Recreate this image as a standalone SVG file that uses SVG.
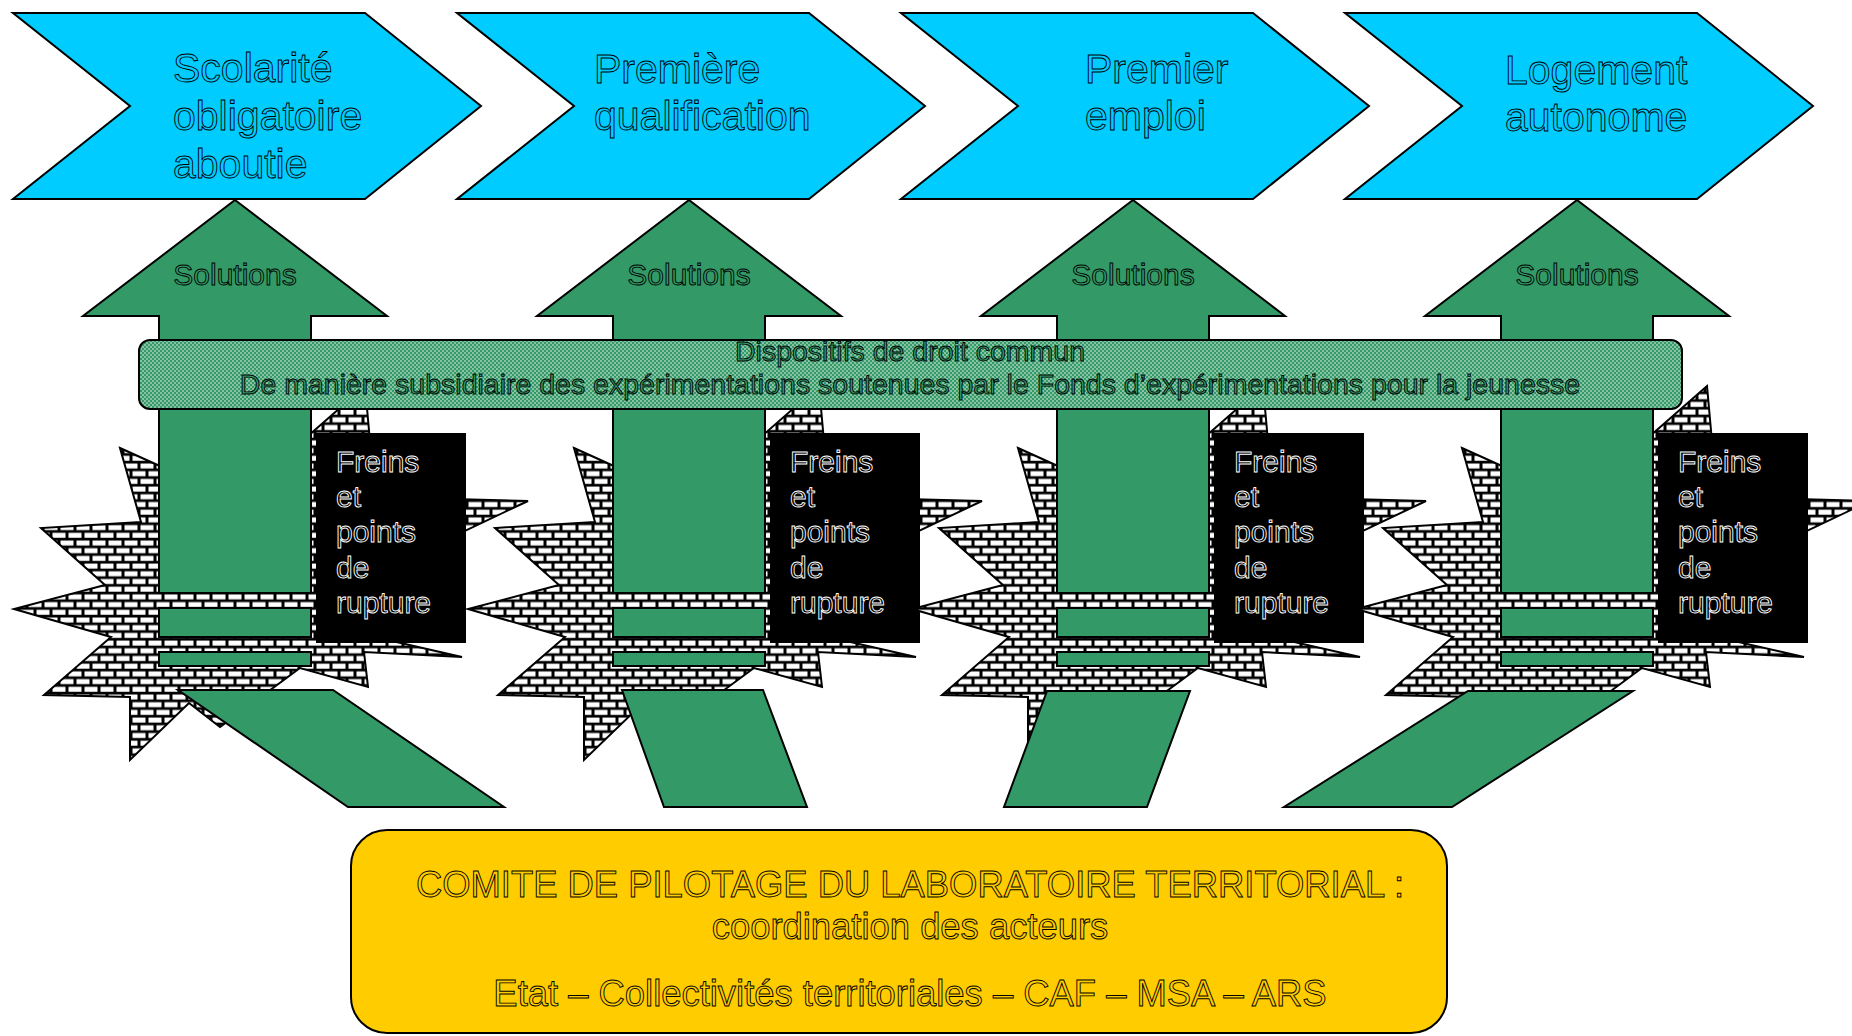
<svg xmlns="http://www.w3.org/2000/svg" xmlns:xlink="http://www.w3.org/1999/xlink" width="1852" height="1036" viewBox="0 0 1852 1036">
<style>
  text { font-family: "Liberation Sans", Arial, sans-serif; stroke-width: 0.9; }
  .chev { fill: #00CCFF; stroke: #000; stroke-width: 2; }
  .chevt { font-size: 41px; fill: #00CCFF; stroke: #000; }
  .green { fill: #339966; stroke: #000; stroke-width: 2; }
  .sol { font-size: 30px; fill: #339966; stroke: #000; text-anchor: middle; }
  .box { fill: #000; }
  .frt { font-size: 30px; fill: #000; stroke: #fff; }
  .burst { fill: url(#brick); stroke: #000; stroke-width: 2; stroke-linejoin: miter; }
  .bant { font-size: 28.5px; fill: #339966; stroke: #000; text-anchor: middle; }
  .comt { font-size: 36.4px; fill: #FFCC00; stroke: #000; text-anchor: middle; }
</style>
<defs>
  <pattern id="brick" width="16" height="15.4" patternUnits="userSpaceOnUse">
    <rect width="16" height="15.4" fill="#000"/>
    <rect x="1.5" y="1.5" width="13" height="5" fill="#fff"/>
    <rect x="-6.5" y="9.2" width="13" height="5" fill="#fff"/>
    <rect x="9.5" y="9.2" width="13" height="5" fill="#fff"/>
  </pattern>
  <pattern id="dots" width="4" height="4" patternUnits="userSpaceOnUse">
    <rect width="4" height="4" fill="#339966"/>
    <rect x="0.3" y="0.3" width="1.4" height="1.4" fill="#fff" fill-opacity="0.85"/>
    <rect x="2.3" y="2.3" width="1.4" height="1.4" fill="#fff" fill-opacity="0.85"/>
  </pattern>
  <polygon id="burstShape" class="burst" points="-115,448 0,500 130,386 140,497 293,501 200,545 100,628 227,657 129,652 133,687 65,668 -15,727 -46,703 -105,760 -105,697 -191,695 -124,637 -221,609 -130,585 -194,528 -94,522"/>
  <g id="arrowShape">
    <polygon class="green" points="0,200 152,316 76,316 76,593 -76,593 -76,316 -152,316"/>
    <rect class="green" x="-76" y="608" width="152" height="29"/>
    <rect class="green" x="-76" y="652" width="152" height="14"/>
  </g>
</defs>
<rect width="1852" height="1036" fill="#fff"/>

<g id="col1">
  <use xlink:href="#burstShape" href="#burstShape" transform="translate(235,0)"/>
  <use xlink:href="#arrowShape" href="#arrowShape" transform="translate(235,0)"/>
  <text class="sol" x="235" y="285">Solutions</text>
  <rect class="box" x="316" y="433" width="150" height="210"/>
  <text class="frt" x="336"><tspan x="336" y="472">Freins</tspan><tspan x="336" y="507">et</tspan><tspan x="336" y="542">points</tspan><tspan x="336" y="578">de</tspan><tspan x="336" y="613">rupture</tspan></text>
</g>
<g id="col2">
  <use xlink:href="#burstShape" href="#burstShape" transform="translate(689,0)"/>
  <use xlink:href="#arrowShape" href="#arrowShape" transform="translate(689,0)"/>
  <text class="sol" x="689" y="285">Solutions</text>
  <rect class="box" x="770" y="433" width="150" height="210"/>
  <text class="frt" x="790"><tspan x="790" y="472">Freins</tspan><tspan x="790" y="507">et</tspan><tspan x="790" y="542">points</tspan><tspan x="790" y="578">de</tspan><tspan x="790" y="613">rupture</tspan></text>
</g>
<g id="col3">
  <use xlink:href="#burstShape" href="#burstShape" transform="translate(1133,0)"/>
  <use xlink:href="#arrowShape" href="#arrowShape" transform="translate(1133,0)"/>
  <text class="sol" x="1133" y="285">Solutions</text>
  <rect class="box" x="1214" y="433" width="150" height="210"/>
  <text class="frt" x="1234"><tspan x="1234" y="472">Freins</tspan><tspan x="1234" y="507">et</tspan><tspan x="1234" y="542">points</tspan><tspan x="1234" y="578">de</tspan><tspan x="1234" y="613">rupture</tspan></text>
</g>
<g id="col4">
  <use xlink:href="#burstShape" href="#burstShape" transform="translate(1577,0)"/>
  <use xlink:href="#arrowShape" href="#arrowShape" transform="translate(1577,0)"/>
  <text class="sol" x="1577" y="285">Solutions</text>
  <rect class="box" x="1658" y="433" width="150" height="210"/>
  <text class="frt" x="1678"><tspan x="1678" y="472">Freins</tspan><tspan x="1678" y="507">et</tspan><tspan x="1678" y="542">points</tspan><tspan x="1678" y="578">de</tspan><tspan x="1678" y="613">rupture</tspan></text>
</g>

<g id="connectors">
  <polygon class="green" points="178,690 333,690 504,807 348,807"/>
  <polygon class="green" points="622,690 763,690 807,807 664,807"/>
  <polygon class="green" points="1047,691 1190,691 1147,807 1004,807"/>
  <polygon class="green" points="1468,691 1633,691 1452,807 1284,807"/>
</g>

<g id="banner">
  <rect x="139" y="340" width="1543" height="69" rx="11" fill="url(#dots)" stroke="#000" stroke-width="2"/>
  <text class="bant" x="910" y="361">Dispositifs de droit commun</text>
  <text class="bant" x="910" y="394">De manière subsidiaire des expérimentations soutenues par le Fonds d’expérimentations pour la jeunesse</text>
</g>

<g id="step1">
  <polygon class="chev" points="13,13 365,13 481,106 365,199 13,199 130,106"/>
  <text class="chevt"><tspan x="173" y="82">Scolarité</tspan><tspan x="173" y="130">obligatoire</tspan><tspan x="173" y="178">aboutie</tspan></text>
</g>
<g id="step2">
  <polygon class="chev" points="457,13 809,13 925,106 809,199 457,199 574,106"/>
  <text class="chevt"><tspan x="594" y="83">Première</tspan><tspan x="594" y="130">qualification</tspan></text>
</g>
<g id="step3">
  <polygon class="chev" points="901,13 1253,13 1369,106 1253,199 901,199 1018,106"/>
  <text class="chevt"><tspan x="1085" y="83">Premier</tspan><tspan x="1085" y="130">emploi</tspan></text>
</g>
<g id="step4">
  <polygon class="chev" points="1345,13 1697,13 1813,106 1697,199 1345,199 1462,106"/>
  <text class="chevt"><tspan x="1505" y="84">Logement</tspan><tspan x="1505" y="131">autonome</tspan></text>
</g>

<g id="comite">
  <rect x="351" y="830" width="1096" height="203" rx="36" fill="#FFCC00" stroke="#000" stroke-width="2"/>
  <text class="comt" x="910" y="897">COMITE DE PILOTAGE DU LABORATOIRE TERRITORIAL :</text>
  <text class="comt" x="910" y="939">coordination des acteurs</text>
  <text class="comt" x="910" y="1006">Etat – Collectivités territoriales – CAF – MSA – ARS</text>
</g>
</svg>
